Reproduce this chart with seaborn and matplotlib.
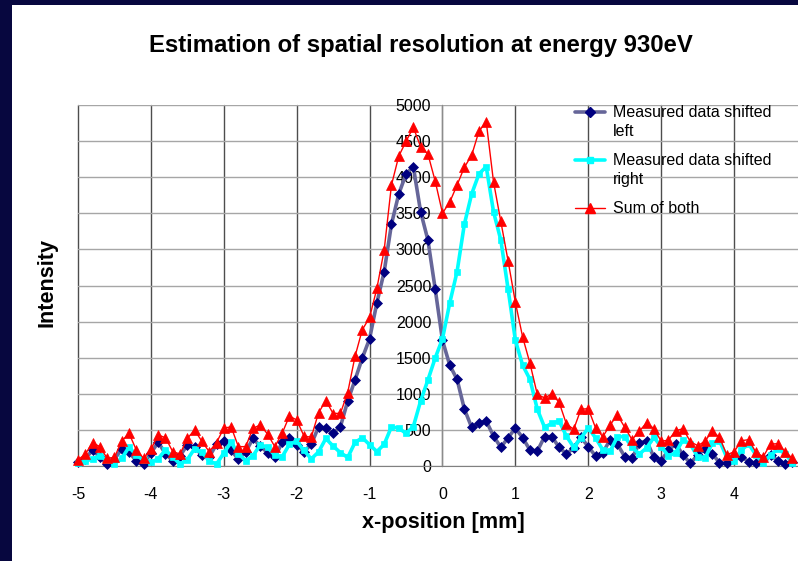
import numpy as np
import pandas as pd
import matplotlib.pyplot as plt
import seaborn as sns
from matplotlib.lines import Line2D
from matplotlib.patches import Rectangle

# x-position in mm, one reading every 0.1 mm from -5.0 to 4.8
x_mm = np.round(np.arange(-50, 49) / 10, 1)

shifted_left = [
    50, 100, 222, 125, 25, 90, 240, 190, 72, 25,
    180, 329, 170, 73, 141, 293, 258, 150, 126, 300,
    342, 215, 98, 195, 381, 275, 185, 118, 326, 392,
    295, 200, 300, 543, 524, 452, 545, 900, 1191, 1495,
    1762, 2260, 2691, 3348, 3767, 4044, 4146, 3522, 3130, 2451,
    1740, 1395, 1200, 789, 536, 591, 623, 415, 259, 390,
    526, 390, 222, 205, 406, 406, 259, 166, 250, 397,
    268, 138, 184, 365, 300, 130, 106, 314, 351, 120,
    75, 220, 305, 152, 37, 152, 235, 170, 46, 37,
    120, 130, 60, 37, 92, 152, 74, 30, 60]

shifted_right = [
    35, 66, 100, 143, 81, 30, 106, 262, 150, 81,
    50, 100, 222, 125, 25, 90, 240, 190, 72, 25,
    180, 329, 170, 73, 141, 293, 258, 150, 126, 300,
    342, 215, 98, 195, 381, 275, 185, 118, 326, 392,
    295, 200, 300, 543, 524, 452, 545, 900, 1191, 1495,
    1762, 2260, 2691, 3348, 3767, 4044, 4146, 3522, 3130, 2451,
    1740, 1395, 1200, 789, 536, 591, 623, 415, 259, 390,
    526, 390, 222, 205, 406, 406, 259, 166, 250, 397,
    268, 138, 184, 365, 300, 130, 106, 314, 351, 120,
    75, 220, 305, 152, 37, 152, 235, 170, 46]

sum_of_both = [
    85, 166, 322, 268, 106, 120, 346, 452, 222, 106,
    230, 429, 392, 198, 166, 383, 498, 340, 198, 325,
    522, 544, 268, 268, 522, 568, 443, 268, 452, 692,
    637, 415, 398, 738, 905, 727, 730, 1018, 1517, 1887,
    2057, 2460, 2991, 3891, 4291, 4496, 4691, 4422, 4321, 3946,
    3502, 3655, 3891, 4137, 4303, 4635, 4769, 3937, 3389, 2841,
    2266, 1785, 1422, 994, 942, 997, 882, 581, 509, 787,
    794, 528, 406, 570, 706, 536, 365, 480, 601, 517,
    343, 358, 489, 517, 337, 282, 341, 484, 397, 157,
    195, 350, 365, 189, 129, 304, 309, 200, 106]

series_labels = ['Measured data shifted\nleft', 'Measured data shifted\nright', 'Sum of both']
x_ticks = [-5, -4, -3, -2, -1, 0, 1, 2, 3, 4]
y_ticks = list(range(0, 5001, 500))

df = pd.DataFrame({'x': x_mm, 'left': shifted_left, 'right': shifted_right, 'sum': sum_of_both})

sns.set_style('white')
plt.rcParams['font.family'] = ['Liberation Sans', 'DejaVu Sans']
plt.rcParams['axes.unicode_minus'] = False
plt.rcParams['text.color'] = 'black'
plt.rcParams['axes.labelcolor'] = 'black'
plt.rcParams['xtick.labelcolor'] = 'black'
plt.rcParams['ytick.labelcolor'] = 'black'

W, H = 798, 561
fig = plt.figure(figsize=(W / 100, H / 100), dpi=100)
fig.patch.set_facecolor('#07073f')
fig.patches.append(Rectangle((12 / W, 0), 1, 1 - 5 / H, transform=fig.transFigure,
                             facecolor='white', edgecolor='none', zorder=-10))

ax = fig.add_axes([78 / W, 95 / H, 720 / W, 361 / H])

styles = [
    dict(color='#666699', lw=2.6, marker='D', markersize=5,
         markerfacecolor='#000080', markeredgecolor='#000080'),
    dict(color='#00ffff', lw=2.6, marker='s', markersize=5,
         markerfacecolor='#00ffff', markeredgecolor='#00ffff'),
    dict(color='#ff0000', lw=1.0, marker='^', markersize=7,
         markerfacecolor='#ff0000', markeredgecolor='#ff0000'),
]
for col, st in zip(['left', 'right', 'sum'], styles):
    sns.lineplot(data=df, x='x', y=col, ax=ax, estimator=None, legend=False,
                 clip_on=False, zorder=3, markeredgewidth=0.5, **st)

ax.set_xlim(-5, 4.877)
ax.set_ylim(0, 5000)
ax.set_xticks(x_ticks)
ax.set_yticks(y_ticks)
ax.grid(axis='x', color='#4d4d4d', lw=1)
ax.grid(axis='y', color='#a6a6a6', lw=1)
for gl in ax.get_xgridlines() + ax.get_ygridlines():
    gl.set_clip_on(False)

ax.spines['left'].set_position(('data', 0))
ax.spines['left'].set_color('#8c8c8c')
ax.spines['bottom'].set_color('#808080')
ax.spines['top'].set_visible(False)
ax.spines['right'].set_visible(False)
ax.tick_params(axis='x', length=4, width=1, color='#808080', pad=11, labelsize=11.5)
ax.tick_params(axis='y', length=4, width=1, color='#8c8c8c', pad=4, labelsize=11.5)

ax.set_xlabel('x-position [mm]', fontsize=15.6, fontweight='bold')
ax.xaxis.set_label_coords(0.5076, -0.128)
ax.set_ylabel('Intensity', fontsize=15.6, fontweight='bold')
ax.yaxis.set_label_coords(-0.029, 0.507)

fig.text(420.5 / W, 1 - 52 / H, 'Estimation of spatial resolution at energy 930eV',
         ha='center', va='baseline', fontsize=17.2, fontweight='bold')

# legend drawn by hand so the symbol sits on the first text line, as in the original
entry_y = [112, 160, 208]
text_top = [105, 153, 201]
for st, lab, yh, yt in zip(styles, series_labels, entry_y, text_top):
    fig.add_artist(Line2D([575 / W, 590 / W, 605 / W], [1 - yh / H] * 3,
                          transform=fig.transFigure, markevery=[1], **st))
    fig.text(613 / W, 1 - yt / H, lab, ha='left', va='top', fontsize=11.5, linespacing=1.3)

fig.savefig('out.png', dpi=100)
